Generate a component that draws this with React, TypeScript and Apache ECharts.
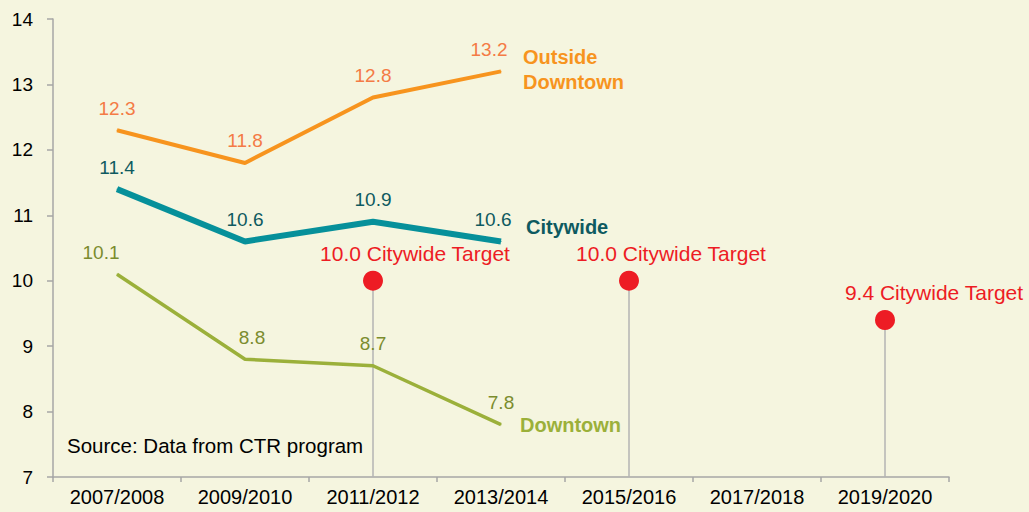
import React, { useEffect, useRef } from "react";
import * as echarts from "echarts";

const categories = ["2007/2008", "2009/2010", "2011/2012", "2013/2014", "2015/2016", "2017/2018", "2019/2020"];
const outsideDowntown = [12.3, 11.8, 12.8, 13.2, "-", "-", "-"];
const citywide = [11.4, 10.6, 10.9, 10.6, "-", "-", "-"];
const downtown = [10.1, 8.8, 8.7, 7.8, "-", "-", "-"];
const targets = ["-", "-", 10.0, "-", 10.0, "-", 9.4];
const yTicks = { min: 7, max: 14, interval: 1 };

const FONT = "'Liberation Sans', Arial, sans-serif";

export default function App() {
  const ref = useRef<HTMLDivElement>(null);
  useEffect(() => {
    if (!ref.current) return;
    const chart = echarts.init(ref.current, null, { renderer: "svg" });
    const valLabel = (color: string) => ({
      show: true,
      position: "top",
      distance: 12,
      color,
      fontSize: 19,
      fontFamily: FONT,
      formatter: (p: any) => Number(p.value).toFixed(1),
    });
    const withOffsets = (arr: any[], offs: (number[] | null)[]) =>
      arr.map((v, i) => (offs[i] && v !== "-" ? { value: v, label: { offset: offs[i] } } : v));
    chart.setOption({
      animation: false,
      backgroundColor: "#f5f5df",
      textStyle: { fontFamily: FONT },
      grid: { left: 53, right: 80, top: 19, bottom: 35 },
      xAxis: {
        type: "category",
        data: categories,
        boundaryGap: true,
        axisLine: { lineStyle: { color: "#a6a6a6", width: 1.5 } },
        axisTick: { show: true, length: 5, lineStyle: { color: "#a6a6a6", width: 1.5 } },
        axisLabel: { color: "#000", fontSize: 20, margin: 10, fontFamily: FONT },
        splitLine: { show: false },
      },
      yAxis: {
        type: "value",
        min: yTicks.min,
        max: yTicks.max,
        interval: yTicks.interval,
        axisLine: { show: true, lineStyle: { color: "#a6a6a6", width: 1.5 } },
        axisTick: { show: true, length: 6, lineStyle: { color: "#a6a6a6", width: 1.5 } },
        axisLabel: { color: "#000", fontSize: 19, margin: 20, fontFamily: FONT },
        splitLine: { show: false },
      },
      graphic: [
        {
          type: "text",
          left: 67,
          top: 435,
          style: { text: "Source: Data from CTR program", fill: "#000", font: "20.5px " + FONT },
        },
      ],
      series: [
        {
          name: "drop",
          type: "bar",
          data: targets,
          barWidth: 1.5,
          itemStyle: { color: "#b3b3b3" },
          silent: true,
          z: 1,
        },
        {
          name: "Outside Downtown",
          type: "line",
          data: withOffsets(outsideDowntown, [null, null, null, [-12, 0]]),
          symbol: "circle",
          symbolSize: 1,
          lineStyle: { color: "#f7941e", width: 4 },
          itemStyle: { color: "#f7941e" },
          label: valLabel("#f47b45"),
          endLabel: {
            show: true,
            formatter: "Outside\nDowntown",
            color: "#f7941e",
            fontWeight: "bold",
            fontSize: 20,
            lineHeight: 25,
            distance: 22,
            offset: [0, -2],
            fontFamily: FONT,
          },
          z: 3,
        },
        {
          name: "Citywide",
          type: "line",
          data: withOffsets(citywide, [null, null, null, [-8, 0]]),
          symbol: "circle",
          symbolSize: 1,
          lineStyle: { color: "#06909a", width: 6 },
          itemStyle: { color: "#06909a" },
          label: valLabel("#0e5a60"),
          endLabel: {
            show: true,
            formatter: "Citywide",
            color: "#0e5a60",
            fontWeight: "bold",
            fontSize: 20,
            distance: 25,
            offset: [0, -14],
            fontFamily: FONT,
          },
          z: 3,
        },
        {
          name: "Downtown",
          type: "line",
          data: withOffsets(downtown, [[-16, 0], [7, 0], null, null]),
          symbol: "circle",
          symbolSize: 1,
          lineStyle: { color: "#9bb03a", width: 3.5 },
          itemStyle: { color: "#9bb03a" },
          label: valLabel("#7b8c2e"),
          endLabel: {
            show: true,
            formatter: "Downtown",
            color: "#9bb03a",
            fontWeight: "bold",
            fontSize: 20,
            distance: 19,
            offset: [0, 0],
            fontFamily: FONT,
          },
          z: 3,
        },
        {
          name: "Target",
          type: "scatter",
          data: withOffsets(targets, [null, null, null, null, null, null, [49, 0]]),
          symbol: "circle",
          symbolSize: 20,
          itemStyle: { color: "#ed1c24", opacity: 1 },
          label: {
            show: true,
            position: "top",
            distance: 7,
            offset: [42, 0],
            color: "#ed1c24",
            fontSize: 21,
            fontFamily: FONT,
            formatter: (p: any) => Number(p.value).toFixed(1) + " Citywide Target",
          },
          z: 5,
        },
      ],
    });
    return () => chart.dispose();
  }, []);
  return <div ref={ref} style={{ position: "fixed", left: 0, top: 0, width: 1029, height: 512 }} />;
}
